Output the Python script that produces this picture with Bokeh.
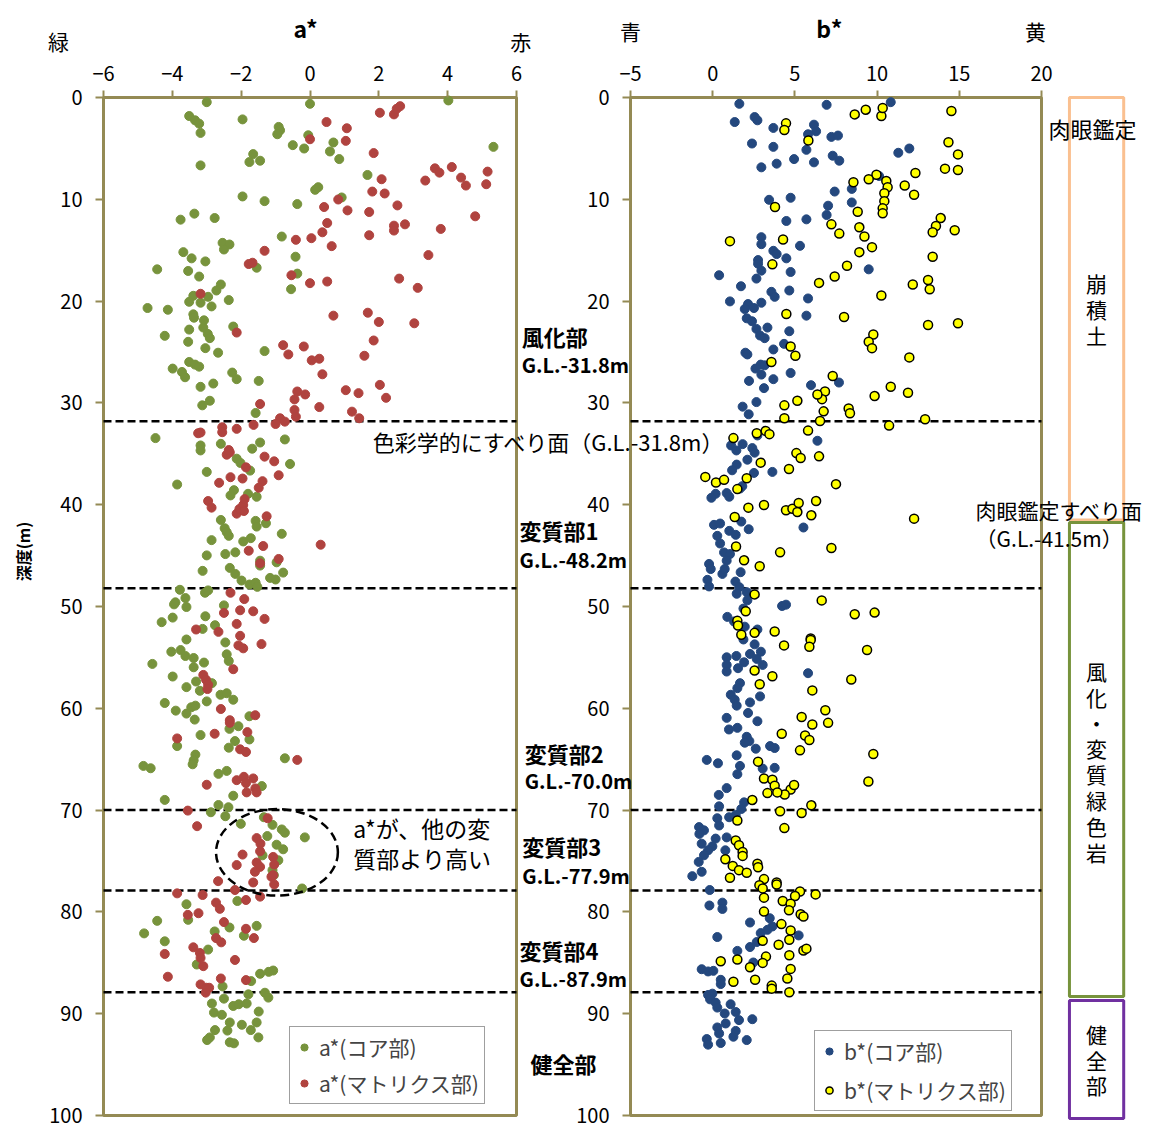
import math
from bokeh.plotting import figure
from bokeh.models import (Range1d, FixedTicker, CustomJSTickFormatter, Label, LinearAxis,
                          Legend, LegendItem)
from bokeh.core.properties import value
from bokeh.embed import file_html
from bokeh.resources import INLINE

# ---------------- data (value, depth m) ----------------
A_TICKS = [-6, -4, -2, 0, 2, 4, 6]
B_TICKS = [-5, 0, 5, 10, 15, 20]
DEPTH_TICKS = list(range(0, 101, 10))
BOUNDARY_DEPTHS = [31.8, 48.2, 70.0, 77.9, 87.9]

A_CORE = [
    (-3.00, 0.46), (0.00, 0.62), (-3.51, 1.82), (-3.34, 2.24), (-3.22, 2.57), (-3.18, 3.48), (-1.96, 2.15),
    (-0.91, 2.89), (-0.87, 3.22), (-0.95, 3.61), (-0.05, 3.71), (-0.50, 4.68), (-0.17, 5.01), (0.68, 4.42),
    (0.58, 5.30), (0.85, 6.05), (-1.65, 5.56), (-1.76, 6.34), (-1.45, 6.21), (-3.18, 6.67), (4.02, 0.29),
    (5.33, 4.85), (1.67, 7.61), (0.24, 8.81), (0.15, 9.07), (0.92, 9.82), (-1.96, 9.72), (-1.32, 10.18),
    (-0.37, 10.47), (-3.36, 11.41), (-3.76, 12.00), (-2.77, 11.84), (-0.82, 13.66), (-2.54, 14.28),
    (-2.34, 14.44), (-2.50, 14.93), (-3.68, 15.19), (-3.44, 15.80), (-3.04, 16.10), (-1.55, 16.72),
    (-4.44, 16.88), (-3.54, 17.04), (-3.22, 17.59), (-0.37, 17.30), (-0.42, 15.64), (-0.55, 18.83),
    (-2.59, 18.37), (-2.72, 18.96), (-3.39, 19.48), (-2.96, 19.58), (-3.51, 20.07), (-3.18, 20.16),
    (-2.86, 20.52), (-2.36, 19.90), (-4.72, 20.68), (-4.13, 20.85), (-3.39, 21.30), (-3.37, 21.63),
    (-3.08, 21.89), (-3.10, 22.60), (-2.23, 22.50), (-3.51, 22.80), (-2.97, 23.22), (-2.91, 23.64),
    (-4.22, 23.41), (-3.54, 24.00), (-3.04, 24.62), (-2.67, 25.07), (-1.32, 24.91), (-3.51, 25.98),
    (-3.34, 26.24), (-3.22, 26.44), (-3.99, 26.63), (-3.72, 26.96), (-3.63, 27.48), (-2.26, 27.02),
    (-2.13, 27.67), (-1.49, 27.84), (-3.18, 28.42), (-2.81, 28.10), (-2.91, 29.79), (-3.13, 30.24),
    (-1.58, 30.99),
    (-4.49, 33.46), (-3.18, 34.18), (-3.18, 34.67), (-2.59, 34.02), (-1.68, 34.50), (-1.45, 33.89),
    (-0.73, 33.59), (-2.13, 35.48), (-2.02, 35.90), (-1.74, 36.65), (-0.58, 36.00), (-3.00, 36.78),
    (-3.86, 38.02), (-2.21, 38.57), (-2.31, 39.09), (-1.80, 38.93), (-1.55, 39.22), (-2.59, 41.50),
    (-1.58, 41.59), (-1.55, 42.15), (-1.28, 41.82), (-2.48, 42.31), (-2.42, 42.70), (-2.36, 43.06),
    (-0.82, 42.86), (-2.86, 43.48), (-1.94, 43.61), (-1.72, 43.29), (-3.00, 44.98), (-2.46, 44.85),
    (-2.17, 44.68), (-1.45, 45.50), (-1.45, 45.98), (-0.97, 45.66), (-0.78, 46.67), (-3.12, 46.50),
    (-2.33, 46.21), (-2.17, 46.80), (-1.99, 47.45), (-1.76, 47.84), (-1.58, 47.67), (-1.53, 48.07),
    (-1.16, 47.19), (-1.00, 47.35), (-3.78, 48.36), (-3.05, 48.65), (-2.96, 48.42), (-3.62, 49.17),
    (-3.91, 49.59), (-3.95, 49.79), (-3.59, 50.05), (-2.50, 49.89), (-3.99, 51.09), (-4.31, 51.54),
    (-3.04, 50.96), (-2.76, 51.84), (-3.12, 52.20), (-3.59, 53.24), (-2.46, 53.53), (-4.03, 54.44),
    (-3.76, 54.28), (-3.62, 54.86), (-3.38, 55.06), (-3.08, 55.51), (-2.42, 54.70), (-2.36, 55.35),
    (-4.58, 55.64), (-3.99, 56.88), (-3.38, 55.97), (-3.31, 57.37), (-2.85, 57.53), (-3.20, 58.28),
    (-3.59, 57.92), (-3.00, 59.32), (-2.60, 58.67), (-2.42, 58.52), (-2.23, 59.16), (-4.22, 59.48),
    (-3.90, 60.23), (-3.59, 60.52), (-3.45, 59.90), (-3.33, 59.74), (-3.35, 61.11), (-1.76, 60.78),
    (-2.34, 62.02), (-2.08, 61.76), (-1.76, 63.06), (-3.18, 62.63), (-2.18, 63.22), (-3.86, 63.71),
    (-2.36, 63.87), (-3.33, 64.55), (-3.38, 65.11), (-3.41, 65.50), (-4.84, 65.66), (-4.63, 65.89),
    (-0.73, 64.91), (-2.66, 66.44), (-2.42, 66.15), (-1.40, 67.64), (-2.23, 68.59),
    (-4.22, 69.00), (-2.66, 69.50), (-2.37, 69.72), (-2.88, 70.21), (-2.46, 70.60), (-2.01, 71.35),
    (-1.34, 70.70), (-1.09, 71.45), (-0.82, 71.90), (-0.73, 72.22), (-0.15, 72.68), (-1.24, 72.55),
    (-0.97, 73.40), (-0.78, 73.85), (-1.38, 74.44), (-0.92, 74.93), (-1.09, 75.90), (-1.05, 76.39),
    (-0.23, 77.70), (-2.11, 78.93), (-3.59, 79.25), (-3.54, 80.78), (-4.44, 80.88), (-4.82, 82.11),
    (-4.22, 82.89), (-2.77, 81.92), (-2.34, 81.53), (-1.92, 82.34), (-1.55, 81.37), (-2.96, 83.70),
    (-3.29, 85.17), (-1.45, 86.08), (-1.20, 85.89), (-1.07, 85.76), (-1.71, 86.80), (-2.54, 87.32),
    (-1.79, 88.10), (-1.31, 87.94), (-1.21, 88.42), (-2.85, 89.00), (-2.50, 88.52), (-2.23, 89.24),
    (-2.07, 89.07), (-1.84, 89.00), (-1.49, 89.79), (-2.79, 89.89), (-2.56, 90.11), (-2.33, 90.86),
    (-1.98, 91.09), (-1.72, 91.61), (-1.55, 90.86), (-1.50, 92.33), (-2.76, 91.61), (-2.91, 92.33),
    (-2.99, 92.59), (-2.40, 91.66), (-2.33, 92.81), (-2.21, 92.91),
]

A_MATRIX = [
    (0.00, 4.10), (0.48, 2.41), (1.07, 3.02), (1.04, 4.26), (1.85, 5.46), (2.03, 1.50), (2.44, 1.66),
    (2.52, 1.11), (2.62, 0.85), (3.63, 6.96), (3.76, 7.38), (4.12, 6.83), (4.39, 7.87), (4.53, 8.65),
    (5.16, 7.28), (5.12, 8.52), (3.35, 8.16), (2.08, 8.03), (1.81, 9.24), (2.17, 9.43), (0.41, 10.76),
    (0.82, 10.02), (1.09, 11.09), (1.72, 11.25), (2.54, 10.60), (2.44, 12.59), (2.44, 13.07), (2.76, 12.46),
    (3.80, 12.91), (4.80, 11.67), (1.72, 13.53), (0.50, 12.33), (0.36, 13.24), (0.04, 13.82), (0.63, 14.60),
    (-0.41, 13.98), (-1.32, 15.06), (-1.78, 16.36), (-1.67, 16.23), (-0.54, 17.46), (0.00, 18.24),
    (0.50, 18.08), (2.59, 17.79), (3.13, 18.70), (3.44, 15.48), (-3.18, 19.28), (-2.13, 23.09),
    (0.68, 21.43), (1.68, 21.14), (2.00, 22.05), (3.03, 22.18), (1.85, 23.87), (1.58, 25.37),
    (-0.78, 24.33), (-0.63, 25.24), (-0.18, 24.46), (0.05, 25.82), (0.27, 25.66), (0.36, 27.19),
    (1.04, 28.75), (1.41, 29.04), (2.03, 28.23), (2.21, 29.50), (-0.37, 28.88), (-0.14, 29.17),
    (-0.45, 29.66), (-1.45, 30.11), (0.27, 30.41), (1.22, 30.86), (1.43, 31.51), (-0.45, 30.70),
    (-0.41, 31.35), (-0.87, 31.51), (-0.73, 31.84), (-1.00, 32.07), (-2.55, 32.39), (-2.13, 32.55),
    (-1.64, 32.16),
    (-3.25, 32.98), (-3.18, 32.91), (-2.55, 32.88), (-2.42, 35.09), (-2.33, 34.86), (-2.36, 34.63),
    (-1.32, 35.28), (-1.04, 35.74), (-1.86, 36.33), (-0.91, 37.11), (-2.31, 37.30), (-1.96, 37.43),
    (-2.64, 37.85), (-1.38, 37.69), (-1.49, 38.34), (-2.96, 39.64), (-2.86, 40.29), (-2.13, 40.88),
    (-2.05, 40.42), (-1.94, 40.03), (-1.90, 39.45), (-1.92, 40.62), (-1.26, 41.14), (-1.36, 44.06),
    (0.31, 43.93), (-1.78, 44.52), (-1.45, 45.76), (-0.91, 45.33), (-2.31, 48.65), (-1.91, 49.27),
    (-2.50, 50.63), (-2.03, 50.37), (-1.65, 50.47), (-1.32, 51.22), (-2.13, 51.71), (-3.31, 52.26),
    (-2.66, 52.49), (-2.03, 52.88), (-2.08, 53.82), (-1.94, 54.11), (-1.41, 53.69), (-2.23, 56.16),
    (-3.10, 56.72), (-3.02, 57.20), (-2.96, 57.69), (-2.98, 58.11), (-2.59, 60.07), (-2.33, 61.17),
    (-2.33, 61.43), (-1.59, 60.68), (-1.82, 62.34), (-2.77, 62.50), (-3.86, 62.96), (-2.03, 64.03),
    (-1.86, 64.29), (-0.37, 65.07), (-2.13, 67.06), (-1.92, 66.73), (-1.65, 66.89), (-1.86, 67.35),
    (-3.00, 67.51), (-1.59, 67.87), (-1.55, 68.26), (-1.84, 68.26),
    (-3.55, 70.05), (-3.28, 71.58), (-1.23, 70.80), (-1.55, 72.75), (-1.44, 73.30), (-1.45, 74.05),
    (-1.96, 74.37), (-1.07, 74.60), (-2.13, 75.40), (-1.55, 75.15), (-1.45, 75.58), (-1.60, 76.06),
    (-1.04, 75.35), (-1.12, 76.55), (-1.04, 77.30), (-1.07, 76.39), (-2.67, 76.98), (-1.65, 77.11),
    (-2.18, 77.85), (-1.45, 78.50), (-1.86, 78.83), (-3.86, 78.18), (-3.12, 78.34), (-2.73, 79.09),
    (-2.62, 79.70), (-3.55, 80.29), (-3.24, 80.13), (-2.50, 81.00), (-1.86, 81.66), (-1.63, 82.57),
    (-2.73, 82.57), (-2.58, 82.99), (-3.39, 83.48), (-3.20, 84.03), (-3.18, 84.52), (-3.10, 85.33),
    (-4.22, 84.13), (-2.18, 84.72), (-4.13, 86.37), (-2.59, 86.54), (-1.86, 86.70), (-3.18, 87.12),
    (-3.01, 87.45), (-2.93, 87.45), (-3.03, 87.93),
]

B_CORE = [
    (1.62, 0.62), (6.93, 0.72), (10.83, 0.46), (1.34, 2.41), (2.55, 1.92), (2.72, 2.24), (3.69, 2.99),
    (6.16, 2.67), (6.29, 3.32), (5.80, 3.61), (7.22, 3.87), (7.62, 3.74), (2.39, 4.52), (3.69, 4.85),
    (5.70, 5.14), (7.30, 5.72), (7.70, 6.21), (4.95, 6.05), (6.16, 6.37), (3.89, 6.50), (2.96, 6.86),
    (11.29, 5.43), (11.96, 5.01), (10.12, 7.71), (7.42, 9.24), (8.46, 8.98), (8.46, 10.31), (7.02, 10.63),
    (6.93, 11.54), (3.43, 10.05), (4.74, 9.85), (4.48, 12.13), (5.70, 11.97), (2.96, 13.72), (2.96, 14.41),
    (5.31, 14.57), (3.69, 15.06), (3.89, 15.38), (4.48, 15.80), (2.76, 15.97), (2.76, 16.33), (2.96, 17.01),
    (4.74, 17.14), (9.49, 16.88), (0.39, 17.46), (2.66, 17.79), (1.72, 18.54), (3.57, 19.09), (3.77, 19.58),
    (4.66, 18.96), (5.80, 19.74), (1.05, 20.03), (2.15, 20.29), (1.95, 20.78), (2.51, 20.68), (2.96, 20.16),
    (2.07, 21.69), (2.39, 21.98), (5.70, 21.43), (2.66, 22.73), (3.33, 22.60), (2.88, 23.38), (3.16, 23.64),
    (4.66, 22.96), (3.69, 24.75), (4.34, 24.20), (1.99, 25.07), (2.11, 25.24), (2.92, 26.24), (3.16, 26.31),
    (2.60, 26.63), (2.96, 27.22), (4.74, 27.06), (2.21, 27.84), (3.69, 27.67), (3.12, 28.55), (5.98, 28.26),
    (7.68, 28.00), (1.82, 30.37), (2.66, 29.92), (2.19, 31.12),
    (6.37, 33.72), (1.82, 34.05), (1.12, 34.18), (1.44, 34.67), (2.41, 34.44), (2.55, 34.89), (2.11, 35.58),
    (2.72, 33.20), (1.46, 36.06), (1.18, 36.62), (2.51, 36.88), (3.63, 36.78), (1.80, 38.18), (1.66, 38.41),
    (0.18, 38.93), (-0.08, 39.32), (0.85, 38.86), (1.01, 39.22), (5.52, 42.24), (0.08, 41.98), (0.45, 41.85),
    (0.28, 43.06), (0.45, 43.81), (1.01, 42.57), (1.40, 42.96), (1.74, 41.66), (2.19, 42.41), (0.69, 44.69),
    (1.05, 44.85), (0.85, 45.50), (1.70, 46.63), (-0.22, 45.82), (-0.12, 46.32), (0.59, 46.80), (0.73, 46.32),
    (-0.32, 47.38), (-0.22, 48.03), (1.38, 47.55), (1.62, 48.10), (2.07, 48.59), (1.46, 48.75), (2.11, 49.39),
    (4.22, 49.95), (4.46, 49.82), (1.87, 50.20), (0.89, 51.02), (1.30, 51.47), (1.95, 51.98), (2.72, 52.26),
    (1.87, 53.24), (2.55, 53.72), (2.93, 54.44), (0.85, 54.99), (2.27, 54.66), (1.44, 54.86), (2.68, 55.15),
    (1.91, 55.48), (3.04, 55.74), (0.85, 55.74), (1.54, 56.06), (0.85, 56.39), (5.80, 56.55), (1.66, 57.53),
    (1.50, 58.02), (1.10, 58.67), (1.34, 59.16), (1.46, 59.74), (2.27, 59.42), (2.88, 58.83), (2.15, 60.46),
    (2.72, 61.27), (0.85, 60.94), (0.99, 62.08), (1.50, 61.92), (2.07, 62.80), (2.23, 63.22), (1.95, 63.38),
    (2.62, 63.97), (3.49, 63.71), (3.77, 63.90), (1.46, 64.62), (-0.36, 65.07), (0.32, 65.40), (1.66, 65.66),
    (1.50, 66.47), (3.04, 65.92), (3.77, 65.85), (0.85, 67.84), (0.37, 68.51),
    (0.39, 69.63), (1.91, 69.24), (1.74, 69.89), (1.40, 70.47), (1.00, 70.70), (0.28, 70.80), (0.39, 71.51),
    (-0.83, 71.67), (-0.53, 71.99), (-0.81, 72.34), (0.18, 72.80), (0.85, 72.68), (-0.67, 73.30),
    (-0.02, 73.56), (-0.28, 73.95), (-0.53, 74.44), (0.77, 73.95), (-0.85, 75.09), (-0.67, 76.06),
    (-1.24, 76.49), (-0.18, 77.85), (-0.20, 79.37), (0.59, 79.09), (0.59, 79.71), (2.27, 81.04),
    (3.47, 80.62), (3.63, 81.43), (3.33, 81.76), (2.92, 82.08), (5.23, 82.31), (0.28, 82.47), (2.27, 83.45),
    (2.68, 82.96), (1.50, 83.83), (2.47, 84.97), (-0.67, 85.63), (-0.28, 85.85), (0.04, 85.79), (0.49, 86.67),
    (0.49, 87.09), (-0.28, 88.16), (-0.02, 88.03), (-0.16, 88.59), (0.18, 88.91), (0.28, 89.40), (0.73, 89.98),
    (1.09, 89.07), (1.40, 89.83), (1.60, 90.63), (2.41, 90.54), (0.28, 91.35), (0.79, 90.96), (0.39, 91.94),
    (1.40, 91.69), (1.26, 92.26), (-0.36, 92.49), (-0.28, 93.04), (0.49, 92.88), (2.07, 92.59),
]

B_MATRIX = [
    (4.46, 2.54), (4.36, 3.19), (5.82, 4.23), (8.64, 1.66), (9.31, 1.20), (10.26, 1.82), (10.34, 1.04),
    (14.52, 1.33), (14.34, 4.39), (14.92, 5.59), (14.13, 6.99), (14.92, 7.12), (12.33, 7.41), (9.96, 7.58),
    (9.49, 8.03), (8.56, 8.33), (10.56, 8.20), (10.64, 8.81), (11.68, 8.65), (10.44, 9.40), (10.44, 10.18),
    (10.34, 10.89), (10.34, 11.38), (12.25, 9.56), (8.82, 11.22), (3.79, 10.76), (13.87, 11.84),
    (13.58, 12.62), (13.38, 13.24), (14.72, 13.04), (7.22, 12.46), (7.70, 13.37), (8.92, 12.75),
    (9.23, 13.66), (1.05, 14.11), (4.28, 13.95), (9.69, 14.70), (8.92, 15.19), (13.38, 15.64), (3.63, 16.39),
    (8.17, 16.52), (7.42, 17.59), (6.47, 18.21), (12.17, 18.37), (13.10, 17.92), (13.20, 18.83),
    (10.26, 19.45), (4.48, 21.27), (7.99, 21.56), (13.10, 22.34), (14.92, 22.18), (9.77, 23.28),
    (9.49, 24.00), (9.69, 24.62), (4.74, 24.46), (5.03, 25.37), (3.57, 25.98), (11.96, 25.53), (7.30, 27.35),
    (10.83, 28.42), (6.83, 28.88), (6.65, 29.63), (6.37, 29.17), (9.85, 29.33), (11.88, 29.01), (5.15, 29.79),
    (4.36, 30.24), (6.75, 30.83), (8.27, 30.54), (8.35, 31.02), (12.92, 31.61), (4.36, 31.51), (6.53, 31.77),
    (10.73, 32.23),
    (1.26, 33.46), (2.68, 32.98), (3.22, 32.75), (3.45, 33.07), (5.80, 32.72), (5.09, 34.93), (5.35, 35.41),
    (6.47, 35.25), (2.92, 35.87), (4.64, 36.49), (-0.45, 37.27), (0.20, 37.82), (0.69, 37.56), (2.07, 37.40),
    (1.50, 38.47), (7.50, 37.98), (2.17, 40.29), (3.12, 40.03), (4.46, 40.55), (4.85, 40.39), (5.15, 40.72),
    (5.23, 39.84), (6.29, 39.64), (6.00, 41.04), (12.25, 41.37), (1.34, 41.20), (1.42, 44.10), (1.91, 45.46),
    (2.86, 46.05), (4.10, 44.68), (7.22, 44.26), (2.55, 48.81), (6.63, 49.40), (2.01, 50.47), (8.64, 50.76),
    (9.85, 50.60), (1.50, 51.41), (1.54, 51.87), (1.74, 52.78), (2.55, 52.59), (3.77, 52.46), (5.96, 53.14),
    (5.96, 53.30), (5.88, 53.95), (4.34, 53.82), (9.39, 54.28), (2.55, 56.29), (3.63, 56.85), (2.86, 57.63),
    (8.43, 57.17), (6.06, 58.24), (6.85, 60.19), (5.41, 60.85), (6.06, 61.59), (7.02, 61.43), (4.20, 62.50),
    (5.62, 62.67), (5.88, 63.12), (5.31, 64.13), (9.77, 64.49), (9.47, 67.19), (2.76, 65.24), (3.12, 66.89),
    (3.63, 67.02), (3.77, 67.61), (4.74, 67.97), (4.95, 67.54), (3.33, 68.33), (4.38, 68.46), (3.93, 68.26),
    (2.41, 69.00), (4.10, 70.11), (5.41, 70.28), (6.00, 69.53), (4.36, 71.77), (1.50, 71.02), (1.40, 72.98),
    (1.60, 73.46), (1.82, 74.11), (1.82, 74.50), (0.77, 74.83), (1.22, 75.48), (1.60, 75.90), (2.07, 76.16),
    (1.05, 76.65), (2.72, 75.26), (2.76, 75.61), (3.12, 76.78), (2.84, 77.37), (3.04, 77.69), (3.12, 78.60),
    (3.89, 77.11), (3.89, 77.30), (5.31, 78.00), (5.01, 78.44), (6.26, 78.28), (4.26, 78.93), (4.74, 79.19),
    (4.64, 79.84), (3.12, 79.97), (5.35, 80.23), (5.52, 80.46), (4.18, 81.20), (4.74, 81.82), (3.04, 82.83),
    (4.01, 83.22), (4.66, 82.73), (5.52, 83.80), (5.70, 83.61), (4.66, 84.26), (3.24, 84.39), (1.50, 84.68),
    (0.49, 84.85), (2.27, 85.43), (3.04, 85.01), (4.74, 85.60), (4.54, 86.54), (2.58, 86.67), (1.26, 86.86),
    (3.59, 87.24), (3.59, 87.54), (4.66, 87.90),
]

# lithology column on the right (depth ranges)
ZONE_NAMES = ["崩\n積\n土", "風\n化\n・\n変\n質\n緑\n色\n岩", "健\n全\n部"]
ZONE_TOP = [0.0, 41.75, 88.7]
ZONE_BOTTOM = [41.5, 88.3, 100.3]
ZONE_TEXT_DEPTH = [20.8, 65.2, 94.5]
ZONE_COLORS = ["#FAC090", "#77933C", "#7030A0"]

# boundary annotations between the two panels: (a*, depth, text, font size)
SECTION_LABELS = [
    (6.15, 23.41, "風化部", "22px"), (6.15, 26.24, "G.L.-31.8m", "20px"),
    (6.09, 42.44, "変質部1", "22px"), (6.09, 45.37, "G.L.-48.2m", "20px"),
    (6.24, 64.39, "変質部2", "22px"), (6.24, 67.12, "G.L.-70.0m", "20px"),
    (6.17, 73.56, "変質部3", "22px"), (6.17, 76.39, "G.L.-77.9m", "20px"),
    (6.09, 83.71, "変質部4", "22px"), (6.09, 86.54, "G.L.-87.9m", "20px"),
    (6.41, 94.83, "健全部", "22px"),
]

# ---------------- style / layout ----------------
FONT = "Noto Sans CJK JP"
OLIVE = "#948A54"
GREEN = "#77933C"
RED = "#B0433F"
BLUE = "#24487E"
YELLOW = "#FFFF00"

W, H = 1152, 1130
# pixel anchors of the two panels (layout)
A_PX = (103.0, 516.0)   # a* = -6 .. 6
B_PX = (630.0, 1041.0)  # b* = -5 .. 20
D_PX = (97.0, 1115.0)   # depth 0 .. 100 (bottom label kept inside the page)


def span(v0, v1, p0, p1, lo, hi):
    k = (v1 - v0) / (p1 - p0)
    return v0 + (lo - p0) * k, v0 + (hi - p0) * k


a_lo, a_hi = span(A_TICKS[0], A_TICKS[-1], A_PX[0], A_PX[1], 0, W)
b_lo, b_hi = span(B_TICKS[0], B_TICKS[-1], B_PX[0], B_PX[1], 0, W)
d_top, d_bot = span(DEPTH_TICKS[0], DEPTH_TICKS[-1], D_PX[0], D_PX[1], 0, H)

p = figure(width=W, height=H, x_range=Range1d(a_lo, a_hi), y_range=Range1d(d_bot, d_top),
           x_axis_location=None, y_axis_location=None, toolbar_location=None,
           output_backend="svg", title=None, min_border=0,
           background_fill_color="white", border_fill_color="white")
p.min_border_left = p.min_border_right = p.min_border_top = p.min_border_bottom = 0
p.extra_x_ranges = {"b": Range1d(b_lo, b_hi)}
p.outline_line_color = None
p.grid.visible = False

MINUS_JS = "return (tick < 0 ? '\\u2212' : '') + Math.abs(tick);"


def style_axis(ax, horizontal):
    ax.axis_line_color = None
    ax.major_tick_line_color = OLIVE
    ax.major_tick_line_width = 2
    ax.major_tick_in = 0
    ax.minor_tick_line_color = None
    ax.major_label_text_font = FONT
    ax.major_label_text_font_size = "20px"
    ax.major_label_text_color = "#000000"
    if horizontal:
        ax.major_tick_out = 7
        ax.major_label_standoff = 10
    else:
        ax.major_tick_out = 8
        ax.major_label_standoff = 13


# axes fixed on the panel edges
ax_a = LinearAxis(ticker=FixedTicker(ticks=A_TICKS),
                  formatter=CustomJSTickFormatter(code=MINUS_JS), fixed_location=DEPTH_TICKS[0])
ax_b = LinearAxis(x_range_name="b", ticker=FixedTicker(ticks=B_TICKS),
                  formatter=CustomJSTickFormatter(code=MINUS_JS), fixed_location=DEPTH_TICKS[0])
ay_a = LinearAxis(ticker=FixedTicker(ticks=DEPTH_TICKS), fixed_location=A_TICKS[0])
ay_b = LinearAxis(x_range_name="b", ticker=FixedTicker(ticks=DEPTH_TICKS), fixed_location=B_TICKS[0])
for ax in (ax_a, ax_b):
    style_axis(ax, True)
    p.add_layout(ax, "above")
for ax in (ay_a, ay_b):
    style_axis(ax, False)
    p.add_layout(ax, "left")

n = len(BOUNDARY_DEPTHS)

# ---------------- a* panel ----------------
p.quad(left=[A_TICKS[0]], right=[A_TICKS[-1]], top=[DEPTH_TICKS[0]], bottom=[DEPTH_TICKS[-1]],
       fill_color=None, line_color=OLIVE, line_width=3)
p.segment(x0=[A_TICKS[0]] * n, x1=[A_TICKS[-1]] * n, y0=BOUNDARY_DEPTHS, y1=BOUNDARY_DEPTHS,
          line_color="black", line_width=2.5, line_dash="8 4")
ra1 = p.scatter([v for v, d in A_CORE], [d for v, d in A_CORE], size=9, fill_color=GREEN, line_color=GREEN)
ra2 = p.scatter([v for v, d in A_MATRIX], [d for v, d in A_MATRIX], size=9, fill_color=RED, line_color=RED)
p.ellipse(x=[-0.96], y=[74.15], width=[3.54], height=[8.5], fill_color=None,
          line_color="black", line_width=2.5, line_dash="9 5")

# ---------------- b* panel ----------------
p.quad(left=[B_TICKS[0]], right=[B_TICKS[-1]], top=[DEPTH_TICKS[0]], bottom=[DEPTH_TICKS[-1]],
       fill_color=None, line_color=OLIVE, line_width=3, x_range_name="b")
p.segment(x0=[B_TICKS[0]] * n, x1=[B_TICKS[-1]] * n, y0=BOUNDARY_DEPTHS, y1=BOUNDARY_DEPTHS,
          line_color="black", line_width=2.5, line_dash="8 4", x_range_name="b")
rb1 = p.scatter([v for v, d in B_CORE], [d for v, d in B_CORE], size=9, fill_color=BLUE,
                line_color=BLUE, x_range_name="b")
rb2 = p.scatter([v for v, d in B_MATRIX], [d for v, d in B_MATRIX], size=9, fill_color=YELLOW,
                line_color="black", line_width=1.5, x_range_name="b")

# lithology column
p.quad(left=[21.70] * 3, right=[25.0] * 3, top=ZONE_TOP, bottom=ZONE_BOTTOM,
       fill_color=None, line_color=ZONE_COLORS, line_width=3, x_range_name="b")
p.text(x=[23.35] * 3, y=ZONE_TEXT_DEPTH, text=ZONE_NAMES, text_font=value(FONT),
       text_font_size=value("21px"), text_align="center", text_baseline="middle",
       text_line_height=0.86, text_color="black", x_range_name="b")


# ---------------- legends ----------------
def make_legend(items, loc, spacing):
    lg = Legend(items=items, location=loc, margin=0, padding=5, spacing=spacing,
                label_text_font=FONT, label_text_font_size="21px", label_height=30,
                glyph_height=30, glyph_width=18, label_standoff=6,
                border_line_color="#404040", border_line_width=1,
                background_fill_color="white", background_fill_alpha=1.0)
    p.add_layout(lg)


make_legend([LegendItem(label="a*(コア部)", renderers=[ra1]),
             LegendItem(label="a*(マトリクス部)", renderers=[ra2])], (289, 26), 6)
make_legend([LegendItem(label="b*(コア部)", renderers=[rb1]),
             LegendItem(label="b*(マトリクス部)", renderers=[rb2])], (814, 19), 9)


# ---------------- texts ----------------
def add_label(x, y, text, size="21px", bold=False, align="left", angle=0.0, rng="default"):
    p.add_layout(Label(x=x, y=y, text=text, text_font=FONT, text_font_size=size,
                       text_font_style="bold" if bold else "normal", x_range_name=rng,
                       text_align=align, text_baseline="middle", angle=angle,
                       text_color="#000000"))


add_label(-7.31, -5.56, "緑", align="center")
add_label(-0.13, -6.83, "a*", "23px", bold=True, align="center")
add_label(6.12, -5.56, "赤", align="center")
add_label(-5.0, -6.54, "青", align="center", rng="b")
add_label(7.09, -6.83, "b*", "23px", bold=True, align="center", rng="b")
add_label(19.63, -6.54, "黄", align="center", rng="b")
add_label(-8.35, 44.6, "深度(m)", "16px", bold=True, align="center", angle=math.pi / 2)

add_label(1.26, 71.8, "a*が、他の変", "23px")
add_label(1.26, 74.7, "質部より高い", "23px")
add_label(1.82, 33.76, "色彩学的にすべり面（G.L.-31.8m）", "22px")

for x, y, t, s in SECTION_LABELS:
    add_label(x, y, t, s, bold=True)

add_label(20.43, 3.02, "肉眼鑑定", "22px", rng="b")
add_label(15.99, 40.49, "肉眼鑑定すべり面", "21px", rng="b")
add_label(15.99, 43.32, "（G.L.-41.5m）", "21px", rng="b")

open("out.html", "w").write(file_html(p, INLINE))
